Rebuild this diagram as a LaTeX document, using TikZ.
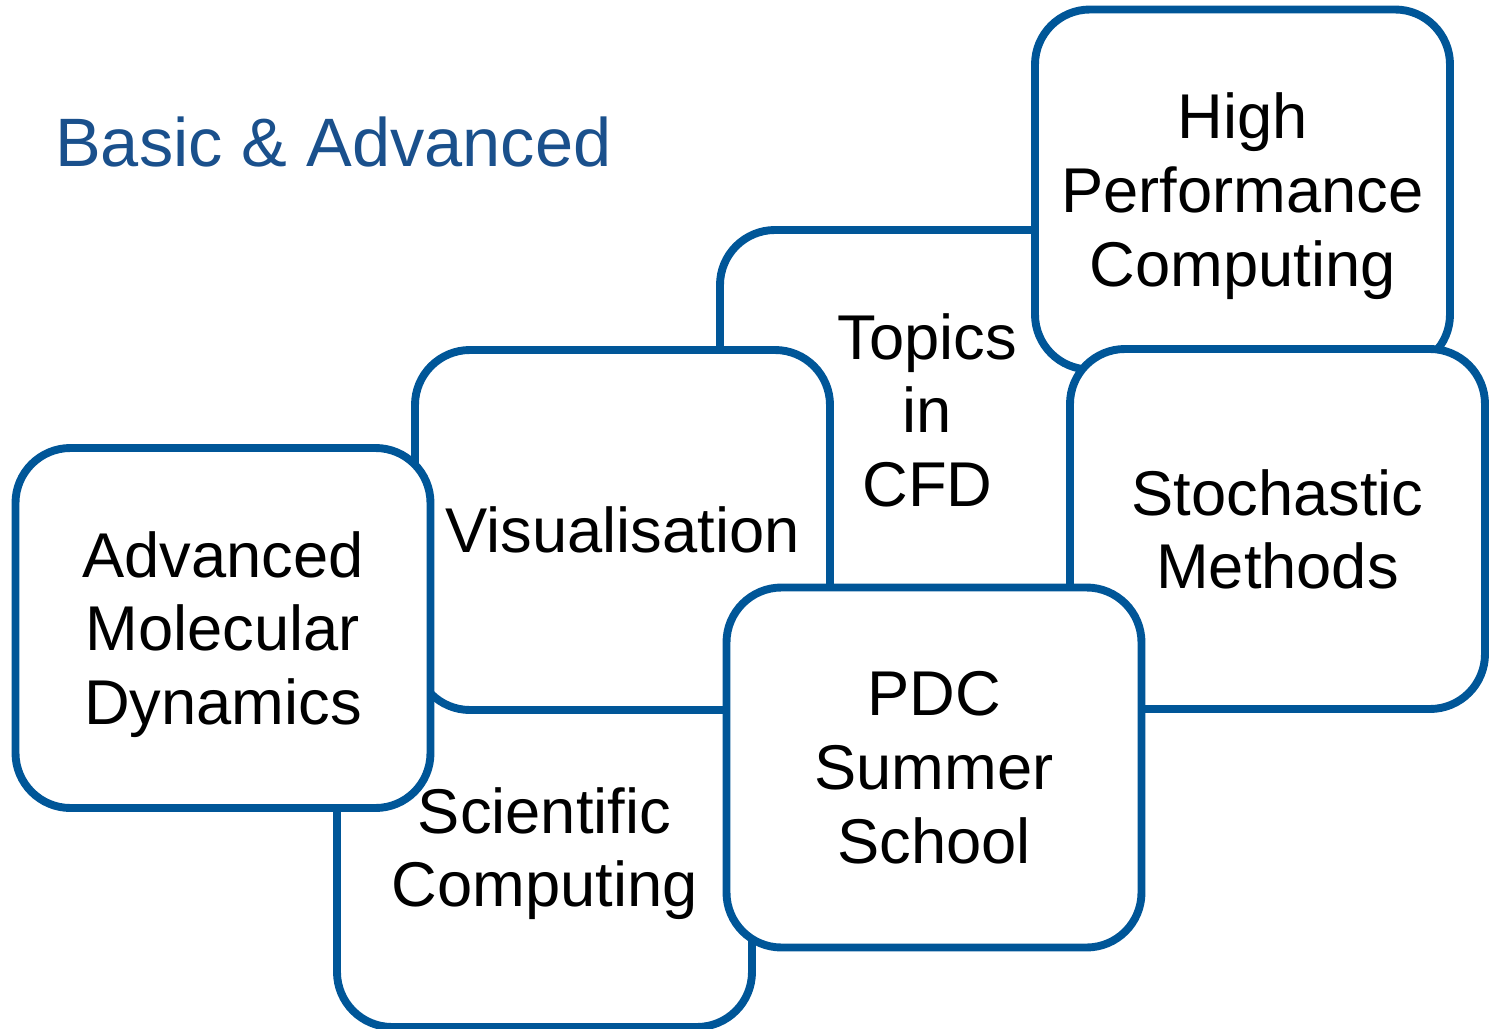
\documentclass[tikz,border=0pt]{standalone}
\usepackage{fontspec}
\setmainfont{Liberation Sans}
\usepackage{tikz}
\usepackage{xcolor}
\definecolor{boxblue}{RGB}{0,86,152}
\definecolor{titleblue}{RGB}{26,80,140}
\tikzstyle{topicbox} = [draw=boxblue, fill=white, line width=4.5pt,
    rectangle, rounded corners=1.1cm, inner sep=0pt,
    minimum width=8.3cm, minimum height=7.2cm,
    align=center, text depth=0pt, font=\fontsize{36}{42}\selectfont]
\tikzstyle{headline} = [text=titleblue, anchor=base west,
    font=\fontsize{39}{47}\selectfont]

\begin{document}
\begin{tikzpicture}
\useasboundingbox (0,0) rectangle (29.78,-20.58);
\node[headline] (title) at (0.98,-3.32) {Basic \& Advanced};
% back to front
\node[topicbox] (cfd) at (18.55,-8.2) {Topics\\in\\CFD};
\node[topicbox] (hpc) at (24.85,-3.79) {High\\Performance\\Computing};
\node[topicbox] (stoch) at (25.55,-10.58) {Stochastic\\Methods};
\node[topicbox] (sci) at (10.89,-16.94) {Scientific\\Computing};
\node[topicbox] (vis) at (12.45,-10.6) {Visualisation};
\node[topicbox] (amd) at (4.46,-12.56) {Advanced\\Molecular\\Dynamics};
\node[topicbox] (pdc) at (18.68,-15.35) {PDC\\Summer\\School};
\end{tikzpicture}
\end{document}
